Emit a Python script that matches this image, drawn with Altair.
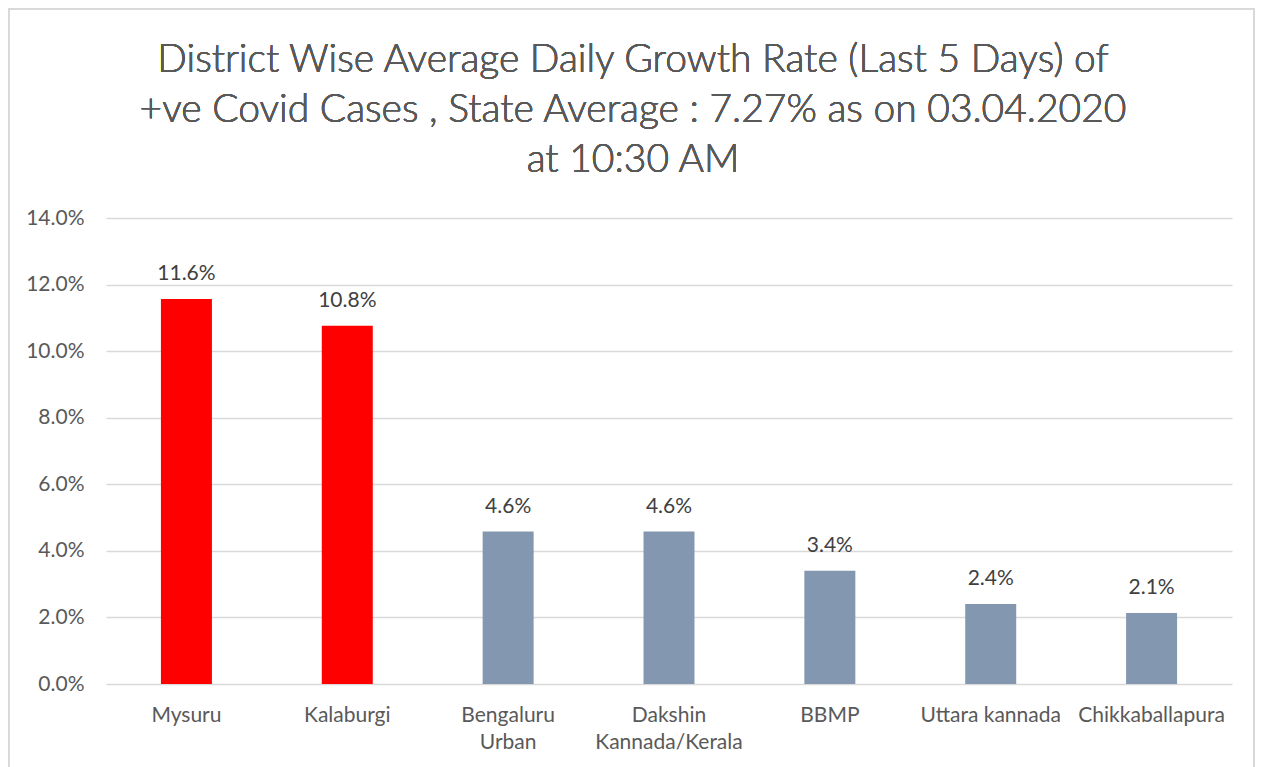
import altair as alt
import pandas as pd

districts = ["Mysuru", "Kalaburgi", "Bengaluru Urban", "Dakshin Kannada/Kerala",
             "BBMP", "Uttara kannada", "Chikkaballapura"]
growth = [0.1157, 0.1076, 0.0458, 0.0458, 0.0340, 0.0240, 0.0213]
highlight = [True, True, False, False, False, False, False]
y_ticks = [0.0, 0.02, 0.04, 0.06, 0.08, 0.10, 0.12, 0.14]
title_lines = ["District Wise Average Daily Growth Rate (Last 5 Days) of",
               "+ve Covid Cases , State Average : 7.27% as on 03.04.2020",
               "at 10:30 AM"]

df = pd.DataFrame({"district": districts, "growth": growth, "hl": highlight})

FONT = "Lato"
W, H = 1126, 466

label_expr = ("datum.label == 'Bengaluru Urban' ? ['Bengaluru', 'Urban'] : "
              "datum.label == 'Dakshin Kannada/Kerala' ? ['Dakshin', 'Kannada/Kerala'] : datum.label")

x = alt.X("district:N", sort=districts,
          scale=alt.Scale(paddingInner=0.683, paddingOuter=0.3415),
          axis=alt.Axis(title=None, labelAngle=0, labelExpr=label_expr,
                        labelFont=FONT, labelFontSize=21, labelColor="#595959",
                        labelPadding=20, labelLineHeight=27, ticks=False, domain=False,
                        labelBaseline="top"))
y = alt.Y("growth:Q",
          scale=alt.Scale(domain=[0, 0.14], nice=False),
          axis=alt.Axis(title=None, format=".1%", values=y_ticks,
                        labelFont=FONT, labelFontSize=21, labelColor="#595959",
                        labelPadding=22, ticks=False, domain=False,
                        grid=True, gridColor="#d9d9d9", gridWidth=1.5))

bars = alt.Chart(df).mark_bar().encode(
    x=x, y=y,
    color=alt.condition("datum.hl", alt.value("#FF0000"), alt.value("#8497B0")),
)
labels = alt.Chart(df).mark_text(
    font=FONT, fontSize=21, color="#404040", baseline="alphabetic", dy=-19
).encode(x=x, y=y, text=alt.Text("growth:Q", format=".1%"))

title = alt.Chart(df).mark_text(
    text=title_lines, font=FONT, fontSize=39, fontWeight=300, color="#595959",
    baseline="alphabetic", align="center", lineHeight=50
).encode(x=alt.value(527), y=alt.value(-146))

border = alt.Chart(df).mark_rect(
    fill=None, stroke="#d9d9d9", strokeWidth=1.5
).encode(x=alt.value(-97), x2=alt.value(W + 22), y=alt.value(-209), y2=alt.value(H + 120))

chart = alt.layer(border, bars, labels, title).properties(
    width=W, height=H,
    padding={"left": 98, "top": 210, "right": 23, "bottom": 83},
    autosize=alt.AutoSizeParams(type="none"),
).configure_view(stroke=None)

chart.save("out.html", embed_options={"renderer": "svg", "actions": False})
